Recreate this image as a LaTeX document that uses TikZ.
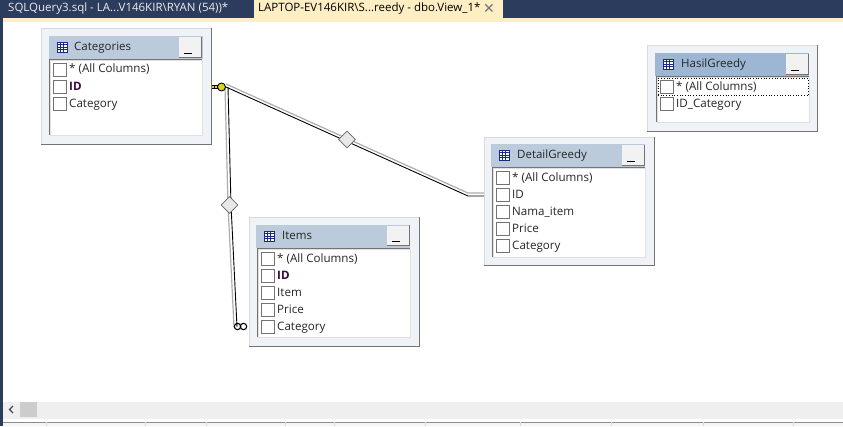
\documentclass[tikz,border=0pt]{standalone}
\usepackage{fontspec}
\setmainfont{Open Sans}
\newfontfamily\symbolfont{DejaVu Sans}
\usetikzlibrary{shapes.geometric}
\definecolor{navy}{HTML}{2C3C5C}
\definecolor{tabyellow}{HTML}{FDEFC3}
\definecolor{titlepale}{HTML}{BCCBDC}
\definecolor{titleblue}{HTML}{9DB6D4}
\definecolor{framepale}{HTML}{EFF3F8}
\definecolor{barpale}{HTML}{EFEFEF}
\definecolor{boldpurple}{HTML}{3A0A3E}
\definecolor{iconblue}{HTML}{1A2A80}
\tikzset{
  winframe/.style={rectangle, draw=black!15, fill=framepale, minimum width=170, minimum height=#1, inner sep=0},
  wintitle/.style={rectangle, fill=titlepale, minimum width=154, minimum height=23, inner sep=0},
  winlist/.style={rectangle, fill=white, draw=black!12, minimum width=152, minimum height=#1, inner sep=0},
  winbutton/.style={rectangle, fill=black!5, minimum width=22, minimum height=20, inner sep=0},
  rowbox/.style={rectangle, draw=black!55, line width=.7, fill=white, minimum size=13, inner sep=0},
  rowtext/.style={anchor=west, inner sep=0, text height=9, text depth=3, font=\fontsize{11.6}{13}\selectfont, text=black!85},
  titletext/.style={anchor=west, inner sep=0, text height=9, text depth=3, font=\fontsize{11.5}{13}\selectfont, text=black!85},
  tabtext/.style={anchor=west, inner sep=0, font=\fontsize{11.5}{14}\selectfont},
  shade/.style={draw=black!55, line width=1.3},
  inset/.style={draw=black!55, line width=1},
  dash bar/.style={draw=black, line width=1.6},
  relationh/.style={draw=black, line width=.9, preaction={draw=black!32, line width=1.2, transform canvas={yshift=3pt}}},
  relationv/.style={draw=black, line width=.9, preaction={draw=black!32, line width=1.2, transform canvas={xshift=-3pt}}},
  reldiamond/.style={diamond, draw=black!60, fill=black!9, line width=.6, minimum size=17, inner sep=0},
  tableicon/.pic={
    \draw[iconblue, line width=.6, fill=white] (-5,-5) rectangle (5,5);
    \draw[iconblue, line width=.6] (-5,-2.5) -- (5,-2.5) (-5,0) -- (5,0) (-5,2.5) -- (5,2.5) (-2,-5) -- (-2,5) (1,-5) -- (1,5);
    \draw[iconblue, line width=1.4] (-5,-4.5) -- (5,-4.5);
  },
}
\begin{document}
\begin{tikzpicture}[x=1pt,y=-1pt]
  \useasboundingbox (0,0) rectangle (843,426);
  % background and tabs
  \fill[navy] (0,0) rectangle (843,426);
  \fill[white] (3,22) rectangle (843,426);
  \fill[tabyellow] (3,18) rectangle (843,22);
  \fill[tabyellow] (254,0) rectangle (503,18);
  \node[tabtext, text=white!90!navy] at (8,9) (tabquery) {SQLQuery3.sql - LA...V146KIR\textbackslash RYAN (54))*};
  \node[tabtext, text=black] at (258,9) (tabview) {LAPTOP-EV146KIR\textbackslash S...reedy - dbo.View\_1*};
  \node[tabtext, text=black!55, font=\symbolfont\fontsize{14}{14}\selectfont] at (483,8.5) (tabclose) {✕};

  % scroll bar
  \fill[barpale] (3,402) rectangle (843,419);
  \fill[black!20] (20,402) rectangle (37,417);
  \draw[black!70, line width=1.2] (13,406) -- (9.5,409.5) -- (13,413);
  \fill[black!4] (3,422) rectangle (843,426);
  \draw[black!45, line width=1] (3,422) -- (843,422);
  \draw[black!15, line width=.7] (46,422) -- (46,426) (145,422) -- (145,426) (206,422) -- (206,426) (285,422) -- (285,426) (334,422) -- (334,426)
    (425,422) -- (425,426) (520,422) -- (520,426) (611,422) -- (611,426) (703,422) -- (703,426) (793,422) -- (793,426);

  % relations
  \coordinate (keyend) at (226,87);
  \coordinate (detailbend) at (468,196);
  \coordinate (detailend) at (484,196);
  \coordinate (itemsbend) at (237,327);
  \draw[relationh] (keyend) -- (detailbend) -- (detailend);
  \draw[relationv] (228,87) -- (231,205) -- (itemsbend);
  \node[reldiamond] at (347,139.5) (detaillink) {};
  \node[reldiamond] at (229.5,205) (itemslink) {};

  % Categories
  \node[winframe=116] at (126,86) (catwin) {};
  \node[wintitle] at (126,47.5) (cattitle) {};
  \node[winbutton] at (190,47) (catbutton) {};
  \node[winlist=75] at (126,97.5) (catlist) {};
  \pic at (62,47) {tableicon};
  \node[titletext] at (74,47.5) (catname) {Categories};
  \node[rowbox] at (60,69.5) (catallbox) {};
  \node[rowtext] at (69,69.5) (catall) {* (All Columns)};
  \node[rowbox] at (60,87) (catidbox) {};
  \node[rowtext, text=boldpurple] at (69,87) (catid) {\bfseries ID};
  \node[rowbox] at (60,104) (catnamebox) {};
  \node[rowtext] at (69,104) (catcategory) {Category};
  \draw[shade] (catwin.north east) -- (catwin.south east) -- (catwin.south west);
  \draw[inset] (catlist.south west) -- (catlist.north west) -- (catlist.north east);
  \draw[shade] (catbutton.north east) -- (catbutton.south east) -- (catbutton.south west);
  \draw[dash bar] (183.5,53.5) -- (192,53.5);

  % key
  \draw[black, line width=4] (212,87) -- (219,87);
  \draw[yellow!85!black, line width=2, dash pattern=on 2 off 1] (212,87) -- (219,87);
  \node[circle, draw=black, fill=yellow!85!black, line width=.9, minimum size=8, inner sep=0] at (221.5,87) (catkey) {};

  % Items
  \node[winframe=129] at (334,281.5) (itemwin) {};
  \node[wintitle] at (333,236) (itemtitle) {};
  \node[winbutton] at (398,235.5) (itembutton) {};
  \node[winlist=88] at (334,293) (itemlist) {};
  \pic at (269,236) {tableicon};
  \node[titletext] at (282,236.5) (itemname) {Items};
  \node[rowbox] at (268,259) (itemallbox) {};
  \node[rowtext] at (277,259) (itemall) {* (All Columns)};
  \node[rowbox] at (268,276) (itemidbox) {};
  \node[rowtext, text=boldpurple] at (277,276) (itemid) {\bfseries ID};
  \node[rowbox] at (268,293) (itemitembox) {};
  \node[rowtext] at (277,293) (itemitem) {Item};
  \node[rowbox] at (268,310) (itempricebox) {};
  \node[rowtext] at (277,310) (itemprice) {Price};
  \node[rowbox] at (268,327) (itemcatbox) {};
  \node[rowtext] at (277,327) (itemcat) {Category};
  \draw[shade] (itemwin.north east) -- (itemwin.south east) -- (itemwin.south west);
  \draw[inset] (itemlist.south west) -- (itemlist.north west) -- (itemlist.north east);
  \draw[shade] (itembutton.north east) -- (itembutton.south east) -- (itembutton.south west);
  \draw[dash bar] (391.5,241.5) -- (400,241.5);

  % many side
  \draw[black, line width=1.1] (237.5,326.5) circle[radius=3.2];
  \draw[black, line width=1.1] (243.5,326.5) circle[radius=3.2];

  % DetailGreedy
  \node[winframe=128] at (569,201) (detailwin) {};
  \node[wintitle] at (568,155.5) (detailtitle) {};
  \node[winbutton] at (633,155) (detailbutton) {};
  \node[winlist=89] at (569,212.5) (detaillist) {};
  \pic at (504,155) {tableicon};
  \node[titletext] at (517,155.5) (detailname) {DetailGreedy};
  \node[rowbox] at (503,178) (detailallbox) {};
  \node[rowtext] at (512,178) (detailall) {* (All Columns)};
  \node[rowbox] at (503,195) (detailidbox) {};
  \node[rowtext] at (512,195) (detailid) {ID};
  \node[rowbox] at (503,212) (detailitembox) {};
  \node[rowtext] at (512,212) (detailitem) {Nama\_item};
  \node[rowbox] at (503,229) (detailpricebox) {};
  \node[rowtext] at (512,229) (detailprice) {Price};
  \node[rowbox] at (503,246) (detailcatbox) {};
  \node[rowtext] at (512,246) (detailcat) {Category};
  \draw[shade] (detailwin.north east) -- (detailwin.south east) -- (detailwin.south west);
  \draw[inset] (detaillist.south west) -- (detaillist.north west) -- (detaillist.north east);
  \draw[shade] (detailbutton.north east) -- (detailbutton.south east) -- (detailbutton.south west);
  \draw[dash bar] (626.5,161.5) -- (635,161.5);

  % HasilGreedy
  \node[winframe=86] at (732.5,88) (hasilwin) {};
  \node[wintitle, fill=titleblue] at (732,64.5) (hasiltitle) {};
  \node[winbutton] at (797,64) (hasilbutton) {};
  \node[winlist=45] at (733,99.5) (hasillist) {};
  \pic at (668,64) {tableicon};
  \node[titletext] at (681,64.5) (hasilname) {HasilGreedy};
  \node[rowbox] at (667,87) (hasilallbox) {};
  \node[rowtext] at (676,87) (hasilall) {* (All Columns)};
  \node[rowbox] at (667,104) (hasilidbox) {};
  \node[rowtext] at (676,104) (hasilid) {ID\_Category};
  \node[rectangle, draw=black, dotted, line width=.7, minimum width=150, minimum height=17, inner sep=0] at (733,87) (hasilfocus) {};
  \draw[shade] (hasilwin.north east) -- (hasilwin.south east) -- (hasilwin.south west);
  \draw[inset] (hasillist.south west) -- (hasillist.north west) -- (hasillist.north east);
  \draw[shade] (hasilbutton.north east) -- (hasilbutton.south east) -- (hasilbutton.south west);
  \draw[dash bar] (790.5,70.5) -- (799,70.5);
\end{tikzpicture}
\end{document}
